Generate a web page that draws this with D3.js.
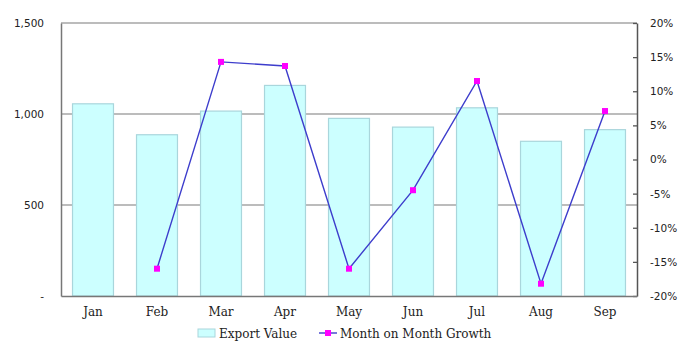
<!DOCTYPE html>
<html>
<head>
<meta charset="utf-8">
<script src="https://cdn.jsdelivr.net/npm/d3@7"></script>
<style>
	body { margin: 0; background: #fff; }
	svg text { fill: #222; }
</style>
</head>
<body>
<svg id="chart" width="698" height="352"></svg>
<script>
var months = ["Jan", "Feb", "Mar", "Apr", "May", "Jun", "Jul", "Aug", "Sep"];
var exportValue = [1056, 886, 1016, 1157, 976, 928, 1034, 850, 914];
var momGrowth = [null, -16.0, 14.3, 13.7, -16.0, -4.5, 11.5, -18.2, 7.1];
var leftTicks = [0, 500, 1000, 1500];
var rightTicks = [-20, -15, -10, -5, 0, 5, 10, 15, 20];

var svg = d3.select("#chart");
var plotL = 61, plotR = 637, plotT = 23, plotB = 296;

var x = d3.scaleBand().domain(months).range([plotL, plotR]).paddingInner(0.36).paddingOuter(0.18);
var yL = d3.scaleLinear().domain([0, 1500]).range([plotB, plotT]);
var yR = d3.scaleLinear().domain([-20, 20]).range([plotB, plotT]);

// gridlines
svg.append("g")
	.selectAll("line")
	.data(leftTicks.slice(1))
	.enter().append("line")
	.attr("x1", plotL).attr("x2", plotR)
	.attr("y1", function(d) { return yL(d); })
	.attr("y2", function(d) { return yL(d); })
	.attr("stroke", "#a6a6a6")
	.attr("stroke-width", 1.5);

// bars
svg.append("g")
	.selectAll("rect")
	.data(exportValue)
	.enter().append("rect")
	.attr("x", function(d, i) { return x(months[i]); })
	.attr("y", function(d) { return yL(d); })
	.attr("width", x.bandwidth())
	.attr("height", function(d) { return plotB - yL(d); })
	.attr("fill", "#ccffff")
	.attr("stroke", "#a9d6dc")
	.attr("stroke-width", 1.2);

// left axis
var axisL = svg.append("g")
	.attr("transform", "translate(" + plotL + ",0)")
	.call(d3.axisLeft(yL).tickValues(leftTicks).tickSize(0).tickPadding(17)
		.tickFormat(function(d) { return d === 0 ? "-" : d3.format(",")(d); }));
axisL.select(".domain").attr("stroke", "#777").attr("stroke-width", 1.5);
axisL.selectAll("text").style("font-family", "DejaVu Sans, Verdana, sans-serif").style("font-size", "10.5px");

// right axis
var axisR = svg.append("g")
	.attr("transform", "translate(" + plotR + ",0)")
	.call(d3.axisRight(yR).tickValues(rightTicks).tickSizeInner(-4).tickSizeOuter(0).tickPadding(13)
		.tickFormat(function(d) { return d + "%"; }));
axisR.select(".domain").attr("stroke", "#555").attr("stroke-width", 1.5);
axisR.selectAll("line").attr("stroke", "#555").attr("stroke-width", 1.3);
axisR.selectAll("text").style("font-family", "DejaVu Sans, Verdana, sans-serif").style("font-size", "10.5px");

// bottom axis
var axisB = svg.append("g")
	.attr("transform", "translate(0," + plotB + ")")
	.call(d3.axisBottom(x).tickSize(0).tickPadding(11));
axisB.select(".domain").attr("stroke", "#777").attr("stroke-width", 1.5);
axisB.selectAll("text").style("font-family", "DejaVu Serif, Georgia, serif").style("font-size", "12px");

// growth line
var pts = momGrowth.map(function(d, i) { return {m: months[i], v: d}; }).filter(function(d) { return d.v !== null; });
var line = d3.line()
	.x(function(d) { return x(d.m) + x.bandwidth() / 2; })
	.y(function(d) { return yR(d.v); });
svg.append("path")
	.datum(pts)
	.attr("d", line)
	.attr("fill", "none")
	.attr("stroke", "#3d3dcc")
	.attr("stroke-width", 1.4);
svg.append("g")
	.selectAll("rect")
	.data(pts)
	.enter().append("rect")
	.attr("x", function(d) { return x(d.m) + x.bandwidth() / 2 - 3; })
	.attr("y", function(d) { return yR(d.v) - 3; })
	.attr("width", 6).attr("height", 6)
	.attr("fill", "#ff00ff");

// legend
var lg = svg.append("g").style("font-family", "DejaVu Serif, Georgia, serif").style("font-size", "12px");
lg.append("rect").attr("x", 198).attr("y", 329).attr("width", 17).attr("height", 8)
	.attr("fill", "#ccffff").attr("stroke", "#a9d6dc");
lg.append("text").attr("x", 219).attr("y", 337.5).text("Export Value");
lg.append("line").attr("x1", 319).attr("x2", 337).attr("y1", 333).attr("y2", 333)
	.attr("stroke", "#3d3dcc").attr("stroke-width", 1.4);
lg.append("rect").attr("x", 325).attr("y", 330).attr("width", 6).attr("height", 6).attr("fill", "#ff00ff");
lg.append("text").attr("x", 340).attr("y", 337.5).text("Month on Month Growth");
</script>
</body>
</html>
